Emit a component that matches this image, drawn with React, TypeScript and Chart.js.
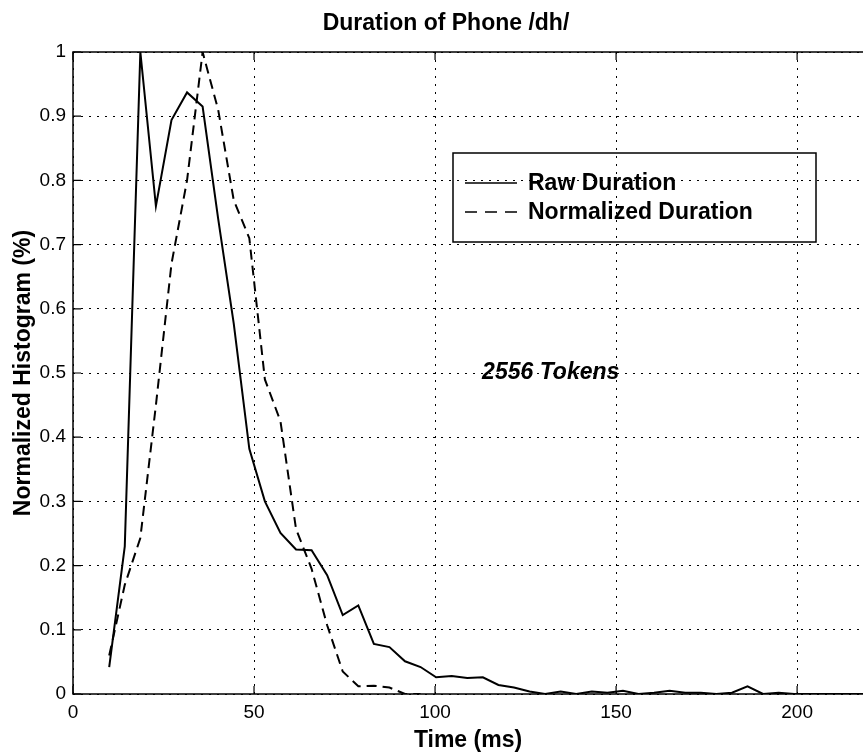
import React, { useEffect, useRef } from 'react';
import { Chart, registerables } from 'chart.js';

Chart.register(...registerables);

// ---- data ----
const TIMES = [
  10, 14.3, 18.6, 22.9, 27.2, 31.5, 35.8, 40.1, 44.4, 48.7,
  53.0, 57.3, 61.6, 65.9, 70.2, 74.5, 78.8, 83.1, 87.4, 91.7,
  96.0, 100.3, 104.6, 108.9, 113.2, 117.5, 121.8, 126.1, 130.4, 134.7,
  139.0, 143.3, 147.6, 151.9, 156.2, 160.5, 164.8, 169.1, 173.4, 177.7,
  182.0, 186.3, 190.6, 194.9, 199.2, 203.5, 207.8, 212.1, 216.4, 220.7,
];
const RAW = [
  0.042, 0.23, 1.0, 0.76, 0.894, 0.937, 0.915, 0.74, 0.577, 0.382,
  0.30, 0.251, 0.225, 0.224, 0.185, 0.123, 0.138, 0.078, 0.073, 0.051,
  0.042, 0.026, 0.028, 0.025, 0.026, 0.014, 0.010, 0.004, 0.0, 0.004,
  0.0, 0.004, 0.002, 0.005, 0.0, 0.002, 0.005, 0.002, 0.002, 0.0,
  0.002, 0.012, 0.0, 0.002, 0.0, 0.0, 0.0, 0.0, 0.0, 0.0,
];
const NORM = [
  0.06, 0.17, 0.243, 0.45, 0.67, 0.80, 1.0, 0.91, 0.769, 0.71,
  0.49, 0.425, 0.257, 0.195, 0.107, 0.035, 0.012, 0.013, 0.01, 0.0,
  0.0,
];
const X_TICKS = [0, 50, 100, 150, 200];
const Y_TICKS = [0, 0.1, 0.2, 0.3, 0.4, 0.5, 0.6, 0.7, 0.8, 0.9, 1];
const X_MIN = 0;
const X_MAX = 218.2;
const Y_MIN = 0;
const Y_MAX = 1;
const TITLE = 'Duration of Phone /dh/';
const X_LABEL = 'Time (ms)';
const Y_LABEL = 'Normalized Histogram (%)';
const SERIES = ['Raw Duration', 'Normalized Duration'];
const NOTE = '2556 Tokens';
const NOTE_AT = { x: 113, y: 0.5 };

const FONT = '"Liberation Sans", Arial, Helvetica, sans-serif';

const decorPlugin = {
  id: 'decor',
  afterDatasetsDraw(chart: any) {
    const { ctx, chartArea: a, scales } = chart;
    const xs = scales.x;
    const ys = scales.y;
    ctx.save();
    // axes frame (left, top, bottom)
    ctx.strokeStyle = '#000';
    ctx.lineWidth = 1.5;
    ctx.setLineDash([]);
    ctx.beginPath();
    ctx.moveTo(a.right + 2, a.top);
    ctx.lineTo(a.left, a.top);
    ctx.lineTo(a.left, a.bottom);
    ctx.lineTo(a.right + 2, a.bottom);
    ctx.stroke();
    // inward tick marks
    ctx.lineWidth = 1.2;
    ctx.beginPath();
    X_TICKS.forEach((v) => {
      const px = xs.getPixelForValue(v);
      ctx.moveTo(px, a.bottom);
      ctx.lineTo(px, a.bottom - 8);
      ctx.moveTo(px, a.top);
      ctx.lineTo(px, a.top + 8);
    });
    Y_TICKS.forEach((v) => {
      const py = ys.getPixelForValue(v);
      ctx.moveTo(a.left, py);
      ctx.lineTo(a.left + 8, py);
    });
    ctx.stroke();

    // title
    ctx.fillStyle = '#000';
    ctx.font = `bold 23px ${FONT}`;
    ctx.textAlign = 'center';
    ctx.textBaseline = 'middle';
    ctx.fillText(TITLE, 446, 24);

    // annotation
    ctx.font = `italic bold 23px ${FONT}`;
    ctx.textAlign = 'left';
    ctx.fillText(NOTE, xs.getPixelForValue(NOTE_AT.x), ys.getPixelForValue(NOTE_AT.y));

    // legend
    const lx = 453, ly = 153, lw = 363, lh = 89;
    ctx.lineWidth = 1.5;
    ctx.strokeRect(lx, ly, lw, lh);
    const rows = [183, 212];
    chart.data.datasets.forEach((ds: any, i: number) => {
      const y = rows[i];
      ctx.lineWidth = 1.4;
      ctx.setLineDash(i === 0 ? [] : [12, 8]);
      ctx.beginPath();
      ctx.moveTo(465, y);
      ctx.lineTo(517, y);
      ctx.stroke();
      ctx.setLineDash([]);
      ctx.font = `bold 23px ${FONT}`;
      ctx.textAlign = 'left';
      ctx.textBaseline = 'middle';
      ctx.fillText(ds.label, 528, y + 1);
    });
    ctx.restore();
  },
};

export default function App() {
  const ref = useRef<HTMLCanvasElement | null>(null);
  useEffect(() => {
    if (!ref.current) return;
    const chart = new Chart(ref.current, {
      type: 'line',
      data: {
        datasets: [
          {
            label: SERIES[0],
            data: RAW.map((v, i) => ({ x: TIMES[i], y: v })),
            borderColor: '#000',
            borderWidth: 2,
            pointRadius: 0,
            tension: 0,
            fill: false,
          },
          {
            label: SERIES[1],
            data: NORM.map((v, i) => ({ x: TIMES[i], y: v })),
            borderColor: '#000',
            borderWidth: 2,
            borderDash: [10, 6],
            pointRadius: 0,
            tension: 0,
            fill: false,
          },
        ],
      },
      options: {
        animation: false,
        responsive: false,
        devicePixelRatio: 1,
        layout: { padding: { top: 52, left: 0, right: 0, bottom: 0 } },
        plugins: {
          legend: { display: false },
          title: { display: false },
          tooltip: { enabled: false },
        },
        scales: {
          x: {
            type: 'linear',
            min: X_MIN,
            max: X_MAX,
            afterBuildTicks: (s: any) => {
              s.ticks = X_TICKS.map((v) => ({ value: v }));
            },
            afterFit: (s: any) => {
              s.height = 61;
            },
            ticks: {
              color: '#000',
              font: { family: FONT, size: 19 },
              padding: 7,
              maxRotation: 0,
              callback: (v: any) => String(v),
            },
            grid: { color: '#000', lineWidth: 1, drawTicks: false },
            border: { display: false, dash: [2, 6] },
            title: {
              display: true,
              text: X_LABEL,
              color: '#000',
              font: { family: FONT, size: 23, weight: 'bold' },
              padding: { top: 0, bottom: 1 },
            },
          },
          y: {
            type: 'linear',
            min: Y_MIN,
            max: Y_MAX,
            afterBuildTicks: (s: any) => {
              s.ticks = Y_TICKS.map((v) => ({ value: v }));
            },
            afterFit: (s: any) => {
              s.width = 73;
            },
            ticks: {
              color: '#000',
              font: { family: FONT, size: 19 },
              padding: 7,
              callback: (v: any) => String(v),
            },
            grid: { color: '#000', lineWidth: 1, drawTicks: false },
            border: { display: false, dash: [2, 6] },
            title: {
              display: true,
              text: Y_LABEL,
              color: '#000',
              font: { family: FONT, size: 23, weight: 'bold' },
              padding: { top: 10, bottom: 0 },
            },
          },
        },
      },
      plugins: [decorPlugin],
    } as any);
    return () => chart.destroy();
  }, []);
  return (
    <div style={{ position: 'absolute', left: 0, top: 0, width: 863, height: 755, background: '#fff' }}>
      <canvas ref={ref} width={863} height={755} style={{ display: 'block' }} />
    </div>
  );
}
